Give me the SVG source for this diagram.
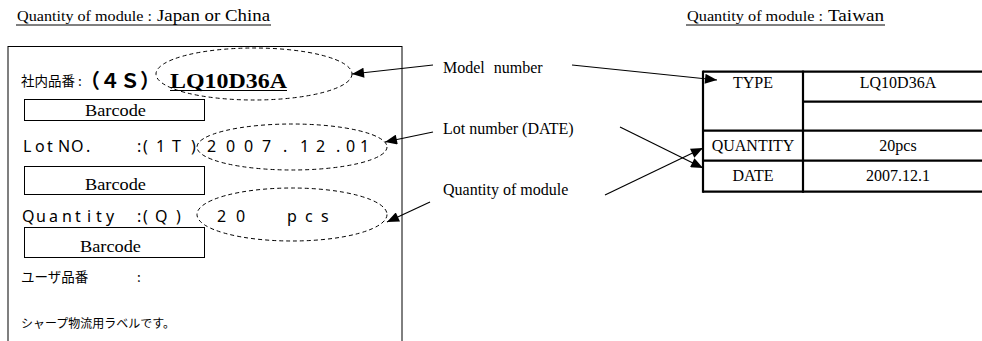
<svg xmlns="http://www.w3.org/2000/svg" width="982" height="341" viewBox="0 0 982 341">
<style>
.serif{font-family:"Liberation Serif","Times New Roman",serif;fill:#000}
.jp{font-family:"Noto Sans CJK JP","Noto Sans",sans-serif;fill:#000}
.mono{font-family:"Noto Sans","DejaVu Sans",sans-serif;font-size:16px;fill:#000}
.box{fill:none;stroke:#000;stroke-width:1}
.ell{fill:none;stroke:#000;stroke-width:1;stroke-dasharray:4 3}
.tbl{stroke:#000;stroke-width:2.2;fill:none}
.conn line{stroke:#000;stroke-width:1.2}
</style>
<defs>
<marker id="ah" viewBox="0 0 12 10" refX="12" refY="5" markerWidth="13" markerHeight="10" orient="auto" markerUnits="userSpaceOnUse">
<path d="M0,0 L12,5 L0,10 z" fill="#000"/>
</marker>
</defs>
<rect width="982" height="341" fill="#fff"/>

<g id="title-left">
<text class="serif" x="17" y="21" font-size="14" textLength="135" lengthAdjust="spacingAndGlyphs">Quantity of module :</text>
<text class="serif" x="157" y="21" font-size="17" textLength="113" lengthAdjust="spacingAndGlyphs">Japan or China</text>
<line x1="16" y1="25" x2="271" y2="25" stroke="#000" stroke-width="1"/>
</g>

<g id="title-right">
<text class="serif" x="687" y="21" font-size="14" textLength="136" lengthAdjust="spacingAndGlyphs">Quantity of module :</text>
<text class="serif" x="828" y="21" font-size="17" textLength="56" lengthAdjust="spacingAndGlyphs">Taiwan</text>
<line x1="686" y1="25" x2="885" y2="25" stroke="#000" stroke-width="1"/>
</g>

<g id="label-jp">
<rect class="box" x="8" y="46.5" width="394" height="300"/>
<text class="jp" x="21" y="86" font-size="13.5">社内品番 :</text>
<text class="jp" x="80" y="88" font-size="20" font-weight="bold">（４Ｓ）</text>
<text class="serif" x="170" y="88" font-size="21" font-weight="bold" textLength="117" lengthAdjust="spacingAndGlyphs">LQ10D36A</text>
<line x1="170" y1="90.5" x2="287" y2="90.5" stroke="#000" stroke-width="1.2"/>

<rect class="box" x="24.5" y="99.5" width="180" height="21"/>
<text class="serif" x="85" y="116" font-size="17" textLength="61" lengthAdjust="spacingAndGlyphs">Barcode</text>

<text class="mono" y="152" x="23 35 47 58 71 86 137 143 156 172 191 207 226 244 262 283 300 316 336 346 360">LotNO.:(1T)2007.12.01</text>

<rect class="box" x="24.5" y="166.5" width="180" height="28"/>
<text class="serif" x="85" y="190" font-size="17" textLength="61" lengthAdjust="spacingAndGlyphs">Barcode</text>

<text class="mono" y="222" x="22 36 49 62 75 87 96 106 137 143 155 176 217 236 287 305 321">Quantity:(Q)20pcs</text>

<rect class="box" x="24.5" y="227.5" width="180" height="30"/>
<text class="serif" x="80" y="252" font-size="17" textLength="61" lengthAdjust="spacingAndGlyphs">Barcode</text>

<text class="jp" x="21" y="282" font-size="13.5">ユーザ品番</text>
<text class="jp" x="137" y="282" font-size="13.5">:</text>
<text class="jp" x="21" y="328" font-size="12">シャープ物流用ラベルです。</text>

<ellipse class="ell" cx="254" cy="74" rx="98" ry="26"/>
<ellipse class="ell" cx="292" cy="147" rx="95" ry="23"/>
<ellipse class="ell" cx="292" cy="214.5" rx="95" ry="26.5"/>
</g>

<g id="callouts">
<text class="serif" x="443" y="73" font-size="16" word-spacing="5">Model number</text>
<text class="serif" x="443" y="134" font-size="16">Lot number (DATE)</text>
<text class="serif" x="443" y="195" font-size="16">Quantity of module</text>
</g>

<g id="table-tw">
<line class="tbl" x1="703" y1="71.7" x2="990" y2="71.7"/>
<line class="tbl" x1="803" y1="101.7" x2="990" y2="101.7"/>
<line class="tbl" x1="703" y1="130.7" x2="990" y2="130.7"/>
<line class="tbl" x1="703" y1="160.7" x2="990" y2="160.7"/>
<line class="tbl" x1="703" y1="191.7" x2="990" y2="191.7"/>
<line class="tbl" x1="703" y1="70.6" x2="703" y2="192.8"/>
<line class="tbl" x1="803" y1="70.6" x2="803" y2="192.8"/>
<text class="serif" x="753" y="88" font-size="16" text-anchor="middle">TYPE</text>
<text class="serif" x="898" y="88" font-size="16" text-anchor="middle">LQ10D36A</text>
<text class="serif" x="753" y="150.5" font-size="16" text-anchor="middle">QUANTITY</text>
<text class="serif" x="898" y="150.5" font-size="16" text-anchor="middle">20pcs</text>
<text class="serif" x="753" y="180.5" font-size="16" text-anchor="middle">DATE</text>
<text class="serif" x="898" y="180.5" font-size="16" text-anchor="middle">2007.12.1</text>
</g>

<g id="connectors" class="conn">
<line x1="433" y1="65" x2="352" y2="74" marker-end="url(#ah)"/>
<line x1="433" y1="132" x2="385" y2="142" marker-end="url(#ah)"/>
<line x1="430" y1="202" x2="387" y2="222" marker-end="url(#ah)"/>
<line x1="572" y1="65" x2="717" y2="80" marker-end="url(#ah)"/>
<line x1="620" y1="127" x2="703" y2="168" marker-end="url(#ah)"/>
<line x1="605" y1="195" x2="703" y2="148" marker-end="url(#ah)"/>
</g>
</svg>
